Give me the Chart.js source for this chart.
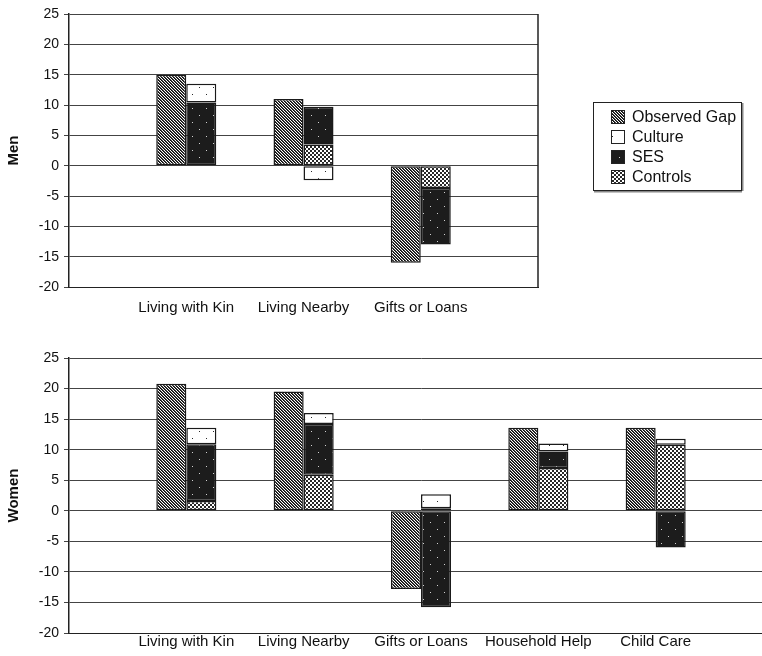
<!DOCTYPE html>
<html>
<head>
<meta charset="utf-8">
<script src="https://cdn.jsdelivr.net/npm/chart.js"></script>
<style>
  html, body { margin: 0; padding: 0; background: #fff; overflow: hidden; }
  body { width: 762px; height: 656px; position: relative; }
  .box { position: absolute; left: 0; }
  #menBox { top: 0; width: 762px; height: 320px; }
  #womenBox { top: 330px; width: 773px; height: 326px; }
</style>
</head>
<body>
<div class="box" id="menBox"><canvas id="menChart"></canvas></div>
<div class="box" id="womenBox"><canvas id="womenChart"></canvas></div>
<script>
// --- data ---
const menCategories = ["Living with Kin", "Living Nearby", "Gifts or Loans"];
const menObserved = [15.0, 11.0, -16.0];
const menControls = [null, 3.5, -3.7];
const menSES = [10.4, 6.2, -9.3];
const menCulture = [3.1, -2.4, null];

const womenCategories = ["Living with Kin", "Living Nearby", "Gifts or Loans", "Household Help", "Child Care"];
const womenObserved = [20.8, 19.5, -12.8, 13.6, 13.6];
const womenControls = [1.6, 5.9, 0.4, 7.0, 10.8];
const womenSES = [9.3, 8.3, -15.8, 2.7, -6.0];
const womenCulture = [2.7, 1.8, 2.3, 1.3, 1.0];

const yTicks = [-20, -15, -10, -5, 0, 5, 10, 15, 20, 25];
const legendNames = ["Observed Gap", "Culture", "SES", "Controls"];

const FONT = "'Liberation Sans', Arial, sans-serif";

// --- fill patterns ---
function makePattern(size, painter) {
  const c = document.createElement("canvas");
  c.width = size; c.height = size;
  const g = c.getContext("2d");
  const img = g.createImageData(size, size);
  for (let y = 0; y < size; y++) {
    for (let x = 0; x < size; x++) {
      const v = painter(x, y);
      const i = (y * size + x) * 4;
      img.data[i] = img.data[i + 1] = img.data[i + 2] = v;
      img.data[i + 3] = 255;
    }
  }
  g.putImageData(img, 0, 0);
  return g.createPattern(c, "repeat");
}

const patObserved = makePattern(6, (x, y) => {
  const m = ((x - y) % 3 + 3) % 3;
  return m === 0 ? 10 : m === 1 ? 70 : 255;
});
const patCulture = makePattern(14, (x, y) =>
  (x === 3 && y === 3) || (x === 10 && y === 10) ? 40 : 255);
const patSES = makePattern(14, (x, y) =>
  (x === 3 && y === 3) || (x === 10 && y === 10) ? 210 : 28);
const patControls = makePattern(4, (x, y) =>
  (((x >> 1) + (y >> 1)) % 2 === 0) ? 40 : 255);

const legendFills = [patObserved, patCulture, patSES, patControls];

const pad = (arr) => [null, ...arr, null];

function buildDatasets(obs, controls, ses, culture) {
  const common = {
    borderColor: "#1a1a1a",
    borderWidth: 1.5,
    borderSkipped: false,
    categoryPercentage: 0.512,
    barPercentage: 1.0,
  };
  return [
    { label: "Observed Gap", data: pad(obs), backgroundColor: patObserved, stack: "gap", ...common },
    { label: "Controls", data: pad(controls), backgroundColor: patControls, stack: "parts", ...common },
    { label: "SES", data: pad(ses), backgroundColor: patSES, stack: "parts", ...common },
    { label: "Culture", data: pad(culture), backgroundColor: patCulture, stack: "parts", ...common },
  ];
}

function buildOptions(title, padding, xHeight, xPad) {
  return {
    responsive: true,
    maintainAspectRatio: false,
    animation: false,
    layout: { padding: padding },
    plugins: { legend: { display: false }, tooltip: { enabled: false } },
    scales: {
      x: {
        type: "category",
        offset: false,
        stacked: true,
        grid: { display: false, drawTicks: false },
        border: { display: true, color: "#222", width: 1 },
        ticks: {
          color: "#111",
          font: { family: FONT, size: 15 },
          padding: xPad,
          autoSkip: false,
          maxRotation: 0,
        },
        afterFit: (s) => { s.height = xHeight; },
      },
      y: {
        stacked: true,
        min: yTicks[0],
        max: yTicks[yTicks.length - 1],
        afterBuildTicks: (s) => { s.ticks = yTicks.map((v) => ({ value: v })); },
        grid: { color: "#444", lineWidth: 1, tickLength: 5 },
        border: { display: true, color: "#222", width: 1.5 },
        ticks: { color: "#111", font: { family: FONT, size: 14 }, padding: 5 },
        title: {
          display: true,
          text: title,
          color: "#111",
          font: { family: FONT, size: 15, weight: "bold" },
          padding: { top: 5, bottom: 0 },
        },
        afterFit: (s) => { s.width = 69; },
      },
    },
  };
}

const rightFrame = {
  id: "rightFrame",
  afterDatasetsDraw(chart) {
    const { ctx, chartArea: a } = chart;
    ctx.save();
    ctx.strokeStyle = "#222";
    ctx.lineWidth = 1.5;
    ctx.beginPath();
    ctx.moveTo(a.right, a.top);
    ctx.lineTo(a.right, a.bottom);
    ctx.stroke();
    ctx.restore();
  },
};

const sideLegend = {
  id: "sideLegend",
  afterDraw(chart) {
    const ctx = chart.ctx;
    const left = 593, top = 102, w = 148, h = 88;
    ctx.save();
    ctx.fillStyle = "#fff";
    ctx.fillRect(left, top, w, h);
    ctx.strokeStyle = "#222";
    ctx.lineWidth = 1;
    ctx.strokeRect(left + 0.5, top + 0.5, w, h);
    ctx.fillStyle = "#888";
    ctx.fillRect(left + 1, top + h + 1, w, 1.5);
    ctx.fillRect(left + w + 1, top + 1, 1.5, h);
    ctx.font = "16px " + FONT;
    ctx.textBaseline = "middle";
    legendNames.forEach((name, i) => {
      const cy = top + 15 + i * 20;
      ctx.fillStyle = legendFills[i];
      ctx.fillRect(611, cy - 7, 14, 14);
      ctx.strokeStyle = "#222";
      ctx.strokeRect(611.5, cy - 6.5, 13, 13);
      ctx.fillStyle = "#111";
      ctx.fillText(name, 632, cy + 1);
    });
    ctx.restore();
  },
};

new Chart(document.getElementById("menChart"), {
  type: "bar",
  data: {
    labels: ["", ...menCategories, ""],
    datasets: buildDatasets(menObserved, menControls, menSES, menCulture),
  },
  options: buildOptions("Men", { top: 14, right: 224, left: 0, bottom: 0 }, 33, 12),
  plugins: [rightFrame, sideLegend],
});

new Chart(document.getElementById("womenChart"), {
  type: "bar",
  data: {
    labels: ["", ...womenCategories, ""],
    datasets: buildDatasets(womenObserved, womenControls, womenSES, womenCulture),
  },
  options: buildOptions("Women", { top: 28, right: 0, left: 0, bottom: 0 }, 23, 0),
});
</script>
</body>
</html>
